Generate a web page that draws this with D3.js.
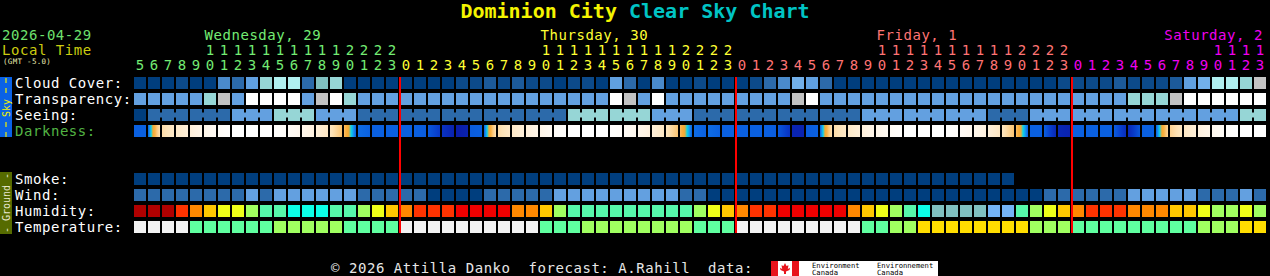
<!DOCTYPE html>
<html><head><meta charset="utf-8">
<script src="https://cdn.jsdelivr.net/npm/d3@7"></script>
<style>
html,body{margin:0;padding:0;background:#000;overflow:hidden;}
svg{display:block;}
text{font-family:"DejaVu Sans Mono",monospace;}
</style></head><body>
<svg id="c" width="1270" height="276"></svg>
<script>
// ---------- DATA ----------
const hours = [5,6,7,8,9,10,11,12,13,14,15,16,17,18,19,20,21,22,23,
  0,1,2,3,4,5,6,7,8,9,10,11,12,13,14,15,16,17,18,19,20,21,22,23,
  0,1,2,3,4,5,6,7,8,9,10,11,12,13,14,15,16,17,18,19,20,21,22,23,
  0,1,2,3,4,5,6,7,8,9,10,11,12,13];
const dayNames = ["Wednesday, 29","Thursday, 30","Friday, 1","Saturday, 2"];
const skyLabels = ["Cloud Cover:","Transparency:","Seeing:","Darkness:"];
const groundLabels = ["Smoke:","Wind:","Humidity:","Temperature:"];

// cloud cover, tenths (0 clear .. 10 overcast)
const cloudCover = [0,0,0,1,0,0,4,3,5,8, 9,9,3,7,8,0,0,0,0,0, 0,0,0,1,1,2,1,2,1,1,
  0,1,1,0,5,3,0,4,0,0, 1,0,0,0,1,3,4,6,5,3, 0,0,0,0,0,0,0,0,0,0,
  0,0,0,0,0,0,1,1,1,1, 2,1,1,1,2,5,6,9,9,8, 10];
// transparency class (0 transparent .. 4 poor, 5 too cloudy)
const transparency = [2,2,2,2,2,3,4,2,5,5, 5,5,2,4,5,3,2,2,2,2, 2,2,2,2,2,2,2,2,2,2,
  2,2,2,2,5,4,2,5,2,2, 2,2,2,2,2,2,2,4,5,2, 2,2,2,2,2,2,2,2,2,2,
  2,2,2,2,2,2,2,2,2,2, 2,3,3,3,4,5,5,5,5,5, 5];
// seeing, x/5
const seeing = [5,4,4,4,4,4,4,3,3,3, 2,2,2,3,3,3,4,4,4,4, 4,4,4,4,4,4,4,4,4,4,
  4,2,2,2,2,2,2,3,3,3, 4,4,4,4,4,4,4,4,4,4, 4,4,3,3,3,3,3,3,3,3,
  3,4,4,4,3,3,3,3,3,3, 3,3,3,3,3,3,3,3,3,2, 2];
// darkness level at start / end of each hour (0 daylight .. 7 dark sky)
const darkStart = [5,5,2.2,1.6,1.2,0.8,0.3,0,0,0, 0.05,0.3,0.7,1.2,1.8,3.0,4.9,5,5,5,
  5,5.2,6.2,7.0,5.1,5,2.2,1.6,1.2,0.8, 0.3,0,0,0,0.05,0.3,0.7,1.2,1.8,3.0,
  4.9,4.9,5,5,5,5,5.2,6.7,5.1,5, 2.2,1.6,1.2,0.8,0.3,0,0,0,0.05,0.3,
  0.7,1.2,1.8,3.0,5,5,6.6,5,5,5, 5.1,6.6,5,5,2.5,1.7,1.1,0.6,0.2,0, 0];
const darkEnd = [5,2.0,1.6,1.2,0.8,0.4,0.1,0,0,0, 0.2,0.6,1.1,1.7,2.9,5.0,5,5,5,5,
  5.1,6.0,6.8,6.8,5.0,2.0,1.6,1.2,0.8,0.4, 0.1,0,0,0,0.2,0.6,1.1,1.7,2.9,5.0,
  5,5,5,5,5,5.1,6.2,6.8,5.0,2.0, 1.6,1.2,0.8,0.4,0.1,0,0,0,0.2,0.6,
  1.1,1.7,2.9,5.0,5,6.6,6.8,5,5,5, 6.4,5.2,5,2.4,1.7,1.2,0.7,0.3,0,0, 0];
// smoke, ug/m3 (forecast ends earlier)
const smoke = [1,1,1,1,1,1,1,1,1,1, 1,1,1,1,1,1,1,1,1,1, 1,1,1,1,1,1,1,1,1,1,
  1,1,1,1,1,1,1,1,1,1, 1,1,1,1,1,1,1,1,1,1, 1,1,1,1,1,1,1,1,1,1, 1,1,1];
// wind, mph
const wind = [8,8,8,8,8,8,8,8,13,8, 13,13,13,13,13,13,8,8,8,8, 8,3,3,3,3,8,8,8,8,8,
  13,13,13,13,13,13,13,13,13,8, 8,3,3,3,3,3,3,3,3,3, 3,3,3,3,3,3,3,3,3,3,
  3,3,3,3,3,8,8,8,8,8, 8,13,13,13,13,13,8,8,8,13, 8];
// relative humidity, %
const humidity = [97,97,97,87,82,77,72,72,67,62, 62,57,57,57,62,62,67,72,77,82,
  87,87,87,92,92,92,92,82,82,77, 67,62,62,62,62,62,62,62,62,62,
  67,72,77,82,87,87,92,92,92,92, 92,82,77,72,67,62,57,52,52,52,
  52,47,47,62,67,72,77,82,87,87, 87,82,82,82,77,77,72,67,67,72, 67];
// temperature, C
const temperature = [3,3,3,3,7,7,7,7,7,7, 12,12,12,12,12,7,7,7,7,3,
  3,3,3,3,3,3,3,3,3,7, 7,7,12,12,12,12,12,12,12,12,
  7,7,7,3,3,3,3,3,3,3, 3,3,7,7,12,12,17,17,17,17,
  17,17,17,17,12,12,12,7,7,7, 7,7,7,7,7,7,12,12,12,17, 17];

// ---------- COLOUR SCALES ----------
const cloudColor = d3.scaleQuantize().domain([-0.5,10.5]).range(["#003e7e","#0c4a8a","#1c5a9a","#2c6aaa","#4a8acb","#60a0e0","#72b0ea","#80c0c0","#96d6d6","#b0f0f0","#c4c4c4"]);
const transColor = d3.scaleOrdinal().domain([0,1,2,3,4,5]).range(["#003e7e","#2c6aaa","#63a0e0","#96d6d6","#c2c2c2","#ffffff"]);
const seeColor = d3.scaleOrdinal().domain([5,4,3,2,1,0]).range(["#003e7e","#2c6aaa","#63a0e0","#96d6d6","#c8c8c8","#ffffff"]);
const darkColor = d3.scaleLinear()
  .domain([0,1,2,2.8,3.3,3.8,4.2,4.6,5,6,7])
  .range(["#ffffff","#fff3e2","#fde2b6","#fcc87a","#f9b040","#f5a830","#00d8f0","#1a90f0","#0a60e0","#0838c8","#0a1ca8"])
  .clamp(true);
const smokeColor = d3.scaleThreshold().domain([5,10,20,40]).range(["#003e7e","#2c6aaa","#63a0e0","#96d6d6","#c8c8c8"]);
const windColor = d3.scaleThreshold().domain([6,12,17,29,46]).range(["#003e7e","#2c6aaa","#63a0e0","#96d6d6","#c8c8c8","#ffffff"]);
const humColor = d3.scaleThreshold().domain([50,55,60,65,70,75,80,85,90,95])
  .range(["#74b4f6","#80c0c0","#0cffe8","#56f8aa","#a0ff60","#eeff18","#ffc800","#ff8800","#ff3300","#ee0000","#b00000"]);
const tempColor = d3.scaleThreshold().domain([5,10,15,20]).range(["#f2f2f2","#5fffa0","#a0ff60","#ffdd00","#ffaa00"]);
const dayColors = ["#74ec74","#ffff33","#ff7474","#f000f0"];

// ---------- LAYOUT ----------
const svg = d3.select("#c");
const idx = d3.range(hours.length);
const x = d3.scaleBand().domain(idx).range([134,1266]).paddingInner(2/14).paddingOuter(0);
const bw = x.bandwidth();
const ySky = d3.scaleBand().domain(skyLabels).range([77,137]).paddingInner(0.25).paddingOuter(0);
const yGround = d3.scaleBand().domain(groundLabels).range([173,233]).paddingInner(0.25).paddingOuter(0);
const bh = ySky.bandwidth();

// day index for each column
const dayOf = []; let d = 0;
hours.forEach((h,i)=>{ if(i>0 && h===0) d++; dayOf.push(d); });

// ---------- TITLE ----------
const title = svg.append("text").attr("x",635).attr("y",18).attr("text-anchor","middle")
  .attr("font-size",20).attr("font-weight","bold").style("white-space","pre");
title.append("tspan").attr("fill","#f4f400").text("Dominion City");
title.append("tspan").attr("fill","#00c4c4").text(" Clear Sky Chart");

// ---------- LEFT HEADER ----------
const lab = {"font-size":14, "letter-spacing":0.55};
function txt(s,xx,yy,fill,extra){
  const t = svg.append("text").attr("x",xx).attr("y",yy).attr("fill",fill).text(s);
  Object.entries(Object.assign({}, lab, extra||{})).forEach(([k,v])=>t.attr(k,v));
  return t;
}
txt("2026-04-29",2,40,"#6ee06e");
txt("Local Time",2,55,"#cccc10");
txt("(GMT -5.0)",3,64,"#ececb0",{"font-size":7.5,"letter-spacing":0.3});

// ---------- DAY NAMES + HOUR DIGITS ----------
dayNames.forEach((name,di)=>{
  const cols = idx.filter(i=>dayOf[i]===di);
  let i10 = cols.find(i=>hours[i]===10);
  const w = name.length*9;
  if(i10===undefined || x(i10)+w > 1266){
    txt(name,1263,40,dayColors[di],{"text-anchor":"end"});
  } else {
    txt(name,x(i10)+0.5,40,dayColors[di]);
  }
});
svg.append("g").selectAll("text.tens").data(idx.filter(i=>hours[i]>=10)).join("text")
  .attr("x",i=>x(i)+bw/2).attr("y",55).attr("text-anchor","middle").attr("font-size",14)
  .attr("fill",i=>dayColors[dayOf[i]]).text(i=>Math.floor(hours[i]/10));
svg.append("g").selectAll("text.units").data(idx).join("text")
  .attr("x",i=>x(i)+bw/2).attr("y",70).attr("text-anchor","middle").attr("font-size",14)
  .attr("fill",i=>dayColors[dayOf[i]]).text(i=>hours[i]%10);

// ---------- SIDE BARS ----------
svg.append("rect").attr("x",0).attr("y",77).attr("width",12).attr("height",60).attr("fill","#0a62e6");
svg.append("line").attr("x1",6).attr("x2",6).attr("y1",78).attr("y2",95).attr("stroke","#f0f000").attr("stroke-width",1.2).attr("stroke-dasharray","5,5");
svg.append("line").attr("x1",6).attr("x2",6).attr("y1",122).attr("y2",137).attr("stroke","#f0f000").attr("stroke-width",1.2).attr("stroke-dasharray","5,5");
svg.append("text").attr("transform","translate(9.5,108) rotate(-90)").attr("text-anchor","middle")
  .attr("font-size",10).attr("fill","#f0f000").text("Sky");
svg.append("rect").attr("x",0).attr("y",172).attr("width",12).attr("height",62).attr("fill","#566b00");
svg.append("text").attr("transform","translate(9.5,203) rotate(-90)").attr("text-anchor","middle")
  .attr("font-size",10).attr("fill","#e8e8d0").style("white-space","pre").text("- Ground -");

// ---------- ROW LABELS ----------
skyLabels.forEach(l=>txt(l,15,ySky(l)+10.5, l==="Darkness:" ? "#52b444" : "#ffffff"));
groundLabels.forEach(l=>txt(l,15,yGround(l)+10.5,"#ffffff"));

// ---------- CELLS ----------
function row(values, y, color){
  svg.append("g").selectAll("rect").data(values.map((v,i)=>({v,i}))).join("rect")
    .attr("x",dd=>x(dd.i)).attr("y",y).attr("width",bw).attr("height",bh)
    .attr("fill",dd=>color(dd.v));
}
row(cloudCover, ySky("Cloud Cover:"), cloudColor);
row(transparency, ySky("Transparency:"), transColor);
row(seeing, ySky("Seeing:"), seeColor);
// seeing connectors within 3-hour blocks
svg.append("g").selectAll("rect").data(idx.slice(0,-1).filter(i=>hours[i+1]%3!==0)).join("rect")
  .attr("x",i=>x(i)+bw).attr("y",ySky("Seeing:")+3.5).attr("width",x.step()-bw).attr("height",5)
  .attr("fill",i=>seeColor(seeing[i]));

// darkness gradients
const defs = svg.append("defs");
idx.forEach(i=>{
  const g = defs.append("linearGradient").attr("id","dk"+i).attr("x1",0).attr("x2",1).attr("y1",0).attr("y2",0);
  d3.range(0,13).forEach(k=>{
    const t = k/12;
    g.append("stop").attr("offset",t).attr("stop-color",darkColor(darkStart[i]+(darkEnd[i]-darkStart[i])*t));
  });
});
svg.append("g").selectAll("rect").data(idx).join("rect")
  .attr("x",i=>x(i)).attr("y",ySky("Darkness:")).attr("width",bw).attr("height",bh)
  .attr("fill",i=>"url(#dk"+i+")");

row(smoke, yGround("Smoke:"), smokeColor);
row(wind, yGround("Wind:"), windColor);
row(humidity, yGround("Humidity:"), humColor);
row(temperature, yGround("Temperature:"), tempColor);

// midnight lines
svg.append("g").selectAll("rect").data(idx.filter(i=>i>0 && hours[i]===0)).join("rect")
  .attr("x",i=>x(i)-1).attr("y",77).attr("width",2).attr("height",156).attr("fill","#ff0000");

// ---------- FOOTER ----------
txt("© 2026 Attilla Danko  forecast: A.Rahill  data:",331,273,"#e6e6e6").style("white-space","pre");
const logo = svg.append("g").attr("transform","translate(771,261)");
logo.append("rect").attr("width",167).attr("height",15).attr("fill","#ffffff");
logo.append("rect").attr("width",7).attr("height",15).attr("fill","#e8141c");
logo.append("rect").attr("x",21).attr("width",7).attr("height",15).attr("fill","#e8141c");
logo.append("path").attr("fill","#e8141c")
  .attr("d","M14,2 L15.5,5 L17.5,4.3 L16.8,8 L19,6.8 L18.5,9 L15,10.5 L15,13 L13,13 L13,10.5 L9.5,9 L9,6.8 L11.2,8 L10.5,4.3 L12.5,5 Z");
[["Environment",41,6.5],["Canada",41,14],["Environnement",106,6.5],["Canada",106,14]].forEach(([s,xx,yy])=>{
  logo.append("text").attr("x",xx).attr("y",yy).attr("font-size",7.2)
    .attr("font-family","Liberation Sans, Arial, sans-serif").attr("fill","#000").text(s);
});
</script>
</body></html>
